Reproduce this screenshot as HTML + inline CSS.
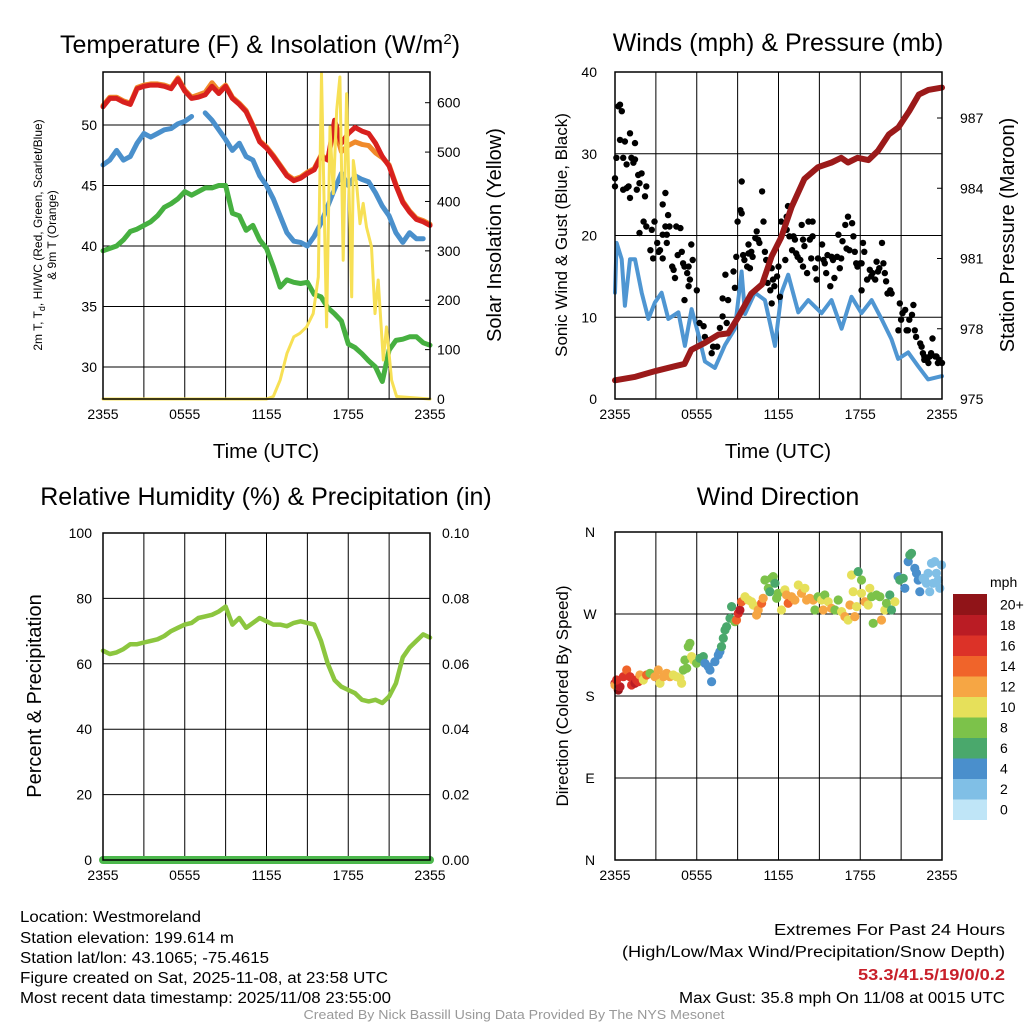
<!DOCTYPE html>
<html><head><meta charset="utf-8"><style>
html,body{margin:0;padding:0;background:#fff}
svg{display:block;font-family:"Liberation Sans",sans-serif}
</style></head><body>
<svg id="c" width="1024" height="1024" viewBox="0 0 1024 1024">
<g id="bg"></g>
<g id="marks"></g>
<g id="fg"></g>
<g font-size="15.5" fill="#000">
<text x="20" y="922" textLength="181" lengthAdjust="spacingAndGlyphs">Location: Westmoreland</text>
<text x="20" y="943" textLength="214" lengthAdjust="spacingAndGlyphs">Station elevation: 199.614 m</text>
<text x="20" y="963" textLength="249" lengthAdjust="spacingAndGlyphs">Station lat/lon: 43.1065; -75.4615</text>
<text x="20" y="983" textLength="368" lengthAdjust="spacingAndGlyphs">Figure created on Sat, 2025-11-08, at 23:58 UTC</text>
<text x="20" y="1003" textLength="371" lengthAdjust="spacingAndGlyphs">Most recent data timestamp: 2025/11/08 23:55:00</text>
<text x="1005" y="935" text-anchor="end" textLength="231" lengthAdjust="spacingAndGlyphs">Extremes For Past 24 Hours</text>
<text x="1005" y="957" text-anchor="end" textLength="383" lengthAdjust="spacingAndGlyphs">(High/Low/Max Wind/Precipitation/Snow Depth)</text>
<text x="1005" y="980" text-anchor="end" font-weight="bold" fill="#c8202a" textLength="147" lengthAdjust="spacingAndGlyphs">53.3/41.5/19/0/0.2</text>
<text x="1005" y="1003" text-anchor="end" textLength="326" lengthAdjust="spacingAndGlyphs">Max Gust: 35.8 mph On 11/08 at 0015 UTC</text>
<text x="514" y="1019" text-anchor="middle" font-size="12.5" fill="#999" textLength="421" lengthAdjust="spacingAndGlyphs">Created By Nick Bassill Using Data Provided By The NYS Mesonet</text>
</g>
</svg>
<script>
// ---------- DATA ----------
const halfHours = [0,0.5,1,1.5,2,2.5,3,3.5,4,4.5,5,5.5,6,6.5,7,7.5,8,8.5,9,9.5,10,10.5,11,11.5,12,12.5,13,13.5,14,14.5,15,15.5,16,16.5,17,17.5,18,18.5,19,19.5,20,20.5,21,21.5,22,22.5,23,23.5,24];
const tempRed = [51.5,52.2,52.2,51.9,51.7,53,53.2,53.3,53.3,53.2,53,53.8,52.8,52.2,52.3,52.5,53.2,52.6,53.2,52.2,51.7,51.1,49.9,48.6,48.1,47.4,46.6,45.8,45.4,45.6,46,46.3,47.4,47.1,50.4,48.5,49.3,49.8,49.5,49.3,48.5,47.4,46.6,45,43.6,42.8,42.2,42,41.7];
const tempOrange = [51.6,52.3,52.3,52,51.8,53.1,53.3,53.4,53.4,53.3,53.1,53.9,52.9,52.3,52.5,52.7,53.5,52.8,53.3,52.3,51.8,51.2,50,48.7,48.2,47.5,46.7,45.9,45.5,45.7,46.1,46.4,47.5,47.2,49.8,47.8,48.3,48.6,48.4,48.3,47.7,47.3,46.7,45.1,43.7,42.9,42.3,42.1,41.8];
const dewBlue = [46.7,47.1,47.9,47.1,47.4,48.5,49.3,49,49.3,49.6,49.7,50.1,50.3,50.7,null,51,50.4,49.6,48.8,47.9,48.5,47.4,47.1,45.8,45,43.9,42.5,41.1,40.4,40.3,40,40.8,41.9,43.3,44.7,46,45,45.8,45.5,45.3,44.4,43.3,42.5,41.1,40.3,41.1,40.6,40.6,null];
const wetGreen = [39.6,39.8,40,40.5,41.2,41.4,41.7,42,42.5,43.2,43.5,43.9,44.5,44.2,44.5,44.8,44.8,45,45,42.7,42.5,41.3,41.7,40.5,39.8,38.3,36.6,37.2,37,36.9,37,36,35.8,34.9,34.4,33.8,31.9,31.6,31.1,30.5,30,28.8,31.4,32.2,32.3,32.5,32.5,32,31.8];
const solarHours = [0,12,12.5,13,13.5,14,14.45,14.94,15.43,15.8,16.04,16.41,16.66,16.9,17.15,17.39,17.63,17.88,18.25,18.37,18.61,18.86,19.1,19.34,19.71,19.96,20.2,20.57,20.81,21.18,21.55,24];
const solarVals = [0,0,5,38,92,126,133,146,173,247,659,146,551,416,585,652,281,618,207,483,436,355,396,348,308,173,241,79,146,38,5,0];

const pressHours = [0,1.5,3,4.4,5.1,5.6,6.6,7.6,8.3,9.05,10,10.8,11.5,12.2,12.96,13.9,14.9,15.9,16.6,17.1,17.8,18.6,19.3,20.1,20.8,21.6,22.3,23,24];
const pressVals = [975.8,975.95,976.2,976.4,976.5,977.1,977.4,977.75,977.8,978.5,979.5,979.9,981.1,981.9,983.2,984.4,984.9,985.1,985.3,985.1,985.3,985.2,985.6,986.3,986.6,987.3,988,988.2,988.3];
const sonicHours = [0,0.12,0.49,0.73,1.1,1.47,1.96,2.45,2.93,3.42,3.91,4.65,5.13,5.62,6.11,6.6,7.33,8.07,8.8,9.29,9.54,10.27,11.0,11.74,12.22,12.71,13.45,14.18,15.16,15.89,16.63,17.36,18.09,18.83,19.56,20.29,20.78,21.52,22.25,22.98,24];
const sonicVals = [13,19.1,17.1,11.4,17.1,17.1,13,9.8,11.8,13,9.8,10.6,6.5,11,8,4.6,3.8,6.6,8.6,15.6,10.4,13,12.1,6.5,13,15.2,10.6,12.1,10.5,12.1,8.6,12.5,10.5,12.1,9.8,7.3,4.9,5.7,4,2.4,2.8];
const gustHours = [0,0,0.1,0.25,0.37,0.5,0.37,0.73,0.6,0.85,1.1,1,1.1,0.6,0.85,1.2,1.35,1.47,1.47,1.7,1.6,1.8,1.95,2.3,2.2,2.1,2.3,1.8,2.6,2.7,2.8,2.9,3.2,3.1,3.3,3.5,3.7,3.8,3.7,3.5,3.9,4,3.8,3.5,4.2,4.3,4.4,4.5,4.8,4.9,4.6,5,5.1,5.3,5.4,5.5,5.4,5.6,5.7,6,5.1,6.2,6.5,6.6,6.8,7.1,7.2,7.5,7.7,7.9,8.2,7.9,8.3,8.1,8.7,8.8,8.9,9,9.2,9.3,9.3,9.4,9.5,9.7,9.8,10,9.9,9.8,10.1,10.3,10.4,10.5,10.6,10.8,10.9,11,11.1,11.2,11.4,11.5,11.6,11.5,11.7,11.9,12,12.1,12.2,12.5,12.6,12.7,12.6,12.8,13,13.1,13.2,13.3,13.4,13.6,13.7,13.8,13.9,13.8,14.1,14.2,14.3,14.4,14.5,14.5,14.7,14.8,14.9,15.2,15.3,15.4,15.5,15.6,15.8,15.9,16,16.1,16.3,16.4,16.5,16.6,16.7,16.9,17,17.1,17.4,17.2,17.5,17.6,17.7,17.8,18,18.1,18.2,18.3,18.5,18.1,18.7,18.8,18.9,19.1,19.2,19.3,19.4,19.6,19.7,19.8,19.9,20,20.3,20.2,20.9,20.8,21,21.1,21.3,21.4,21.5,21.6,21.8,21.9,22,22.1,22.4,22.5,22.6,22.7,22.9,23,23.1,23.2,23.3,23.5,23.7,23.8,24,22.7,23.6];
const gustVals = [26,27,29.5,35.8,36,35.2,31.7,31.5,25.6,25.8,32.5,26,24.6,29.5,28.7,29.5,28.9,31.3,29.3,27.4,25.6,26.4,27.6,26,24.8,21.7,21.1,20.3,18.2,20.7,17.2,21.7,18,19.1,18.2,20.1,21.1,20.1,25.2,23.8,22.5,21.1,19.1,17.2,16.2,15.8,14.8,21.1,20.9,18,17.6,16.6,16.2,15.4,16.2,14.6,13.8,18.9,17,13.3,12.1,9.3,8.9,7.6,7.2,5.6,6.4,6.4,8.7,10.1,9.3,12.3,12.1,15.2,15.6,13.6,17.4,21.7,23.1,22.7,26.6,17.6,17,16.2,17.8,18,16,18.9,17.4,19.7,20.5,19.5,19.1,25.4,21.7,18,17,14.2,13.3,16,14.6,11.7,13.8,15,16.2,12.5,21.7,17,22.3,23.6,20.7,19.9,18.2,19.9,19.5,17.8,17.4,17,21.3,19.5,18.7,16.2,15.4,21.7,19.5,17.2,21.7,19.9,16,14.6,17.2,18.9,17,16.6,15.4,17.6,13.8,17.4,17,14.8,17.4,20.1,16,17.2,19.3,21.3,18.4,22.3,21.5,18.2,19.9,18,16.6,16.2,16.6,16.6,19.1,18,14.6,13.3,15.8,15,15.4,14.6,16.8,15.6,16,19.1,16.6,15.4,14.4,12.9,12.9,13.3,11.7,8.4,9.7,10.5,10.9,8.4,8.4,9.7,10.3,11.5,8.4,7.6,6.8,6.4,5.6,5.2,4.8,4.4,5.2,5.6,7.4,5.2,4.4,4.8,4.4,4.8,5.2];

const rhVals = [64,63,63.5,64.5,66,66,66.5,67,67.5,68.5,70,71,72,72.5,74,74.5,75,76,77.5,72,74,71,72.5,74,73,72,72,71.5,72.5,73,72.5,72,67,60,55,53,52,51,49,48.5,49,48,50,54,62,65,67,69,68];
const precipVals = [0,0,0,0,0,0,0,0,0,0,0,0,0,0,0,0,0,0,0,0,0,0,0,0,0,0,0,0,0,0,0,0,0,0,0,0,0,0,0,0,0,0,0,0,0,0,0,0,0];

const dirHours = [0,0.24,0,0.37,0.12,0.61,0.86,1.1,1.22,1.47,1.59,1.71,1.83,2.08,2.32,2.57,2.93,3.18,3.3,3.55,3.79,4.03,4.28,4.52,4.77,4.89,5.01,5.26,5.13,5.38,5.5,5.62,5.75,5.99,6.23,6.48,6.6,6.85,7.09,6.97,7.33,7.58,7.7,7.82,7.95,8.07,8.19,8.44,8.56,8.8,8.92,9.05,9.17,9.29,9.54,9.78,10.02,10.15,10.39,10.51,10.76,10.88,11,11.25,11.37,11.49,11.61,11.74,11.86,11.98,12.22,12.47,12.59,12.71,12.96,13.2,13.45,13.69,13.94,14.06,14.3,14.55,14.67,14.91,15.16,15.28,15.4,15.65,15.89,16.14,16.38,16.63,16.87,17.11,17.24,17.36,17.48,17.6,17.73,17.85,18.09,18.09,18.34,18.58,18.7,18.83,18.95,19.19,19.44,19.56,19.8,19.93,20.17,20.29,20.54,20.78,20.9,21.15,21.27,21.52,21.64,21.76,22,22.13,22.25,22.37,22.62,22.74,22.86,23.1,23.23,23.47,23.59,23.72,23.84,23.96,22.98,23.35];
const dirVals = [193.9,186.6,192.1,190.2,197.6,201.2,208.5,201.2,192.1,193.9,197.6,195.7,203,197.6,203,204.9,201.2,208.5,193.9,201.2,204.9,201.2,203,201.2,199.4,193.9,208.5,210.4,219.5,234.2,237.8,223.2,219.5,215.9,221.3,223.2,215.9,212.2,195.7,208.5,217.7,225,228.7,234.2,243.3,252.4,256.1,265.3,278.1,261.6,263.4,270.7,274.4,283.5,289,285.4,283.5,279.9,268.9,274.4,281.7,287.2,307.3,298.2,294.5,309.2,311,303.7,287.2,292.7,274.4,296.4,290.9,281.7,289,285.4,301.8,292.7,298.2,285.4,287.2,285.4,274.4,289,285.4,274.4,290.9,283.5,276.2,274.4,285.4,272.6,267.1,263.4,279.9,312.8,294.5,267.1,278.1,316.5,307.3,292.7,283.5,279.9,298.2,289,259.8,290.9,289,263.4,274.4,281.7,290.9,274.4,283.5,311,307.3,309.2,298.2,327.5,334.8,336.6,320.1,314.7,307.3,294.5,309.2,307.3,303.7,294.5,325.7,327.5,314.7,307.3,298.2,323.8,314.7,303.7];
const dirSpeeds = [18,20,12,18,16,16,14,16,16,18,16,16,12,10,14,8,12,12,10,12,12,12,10,10,10,10,8,8,8,8,8,10,10,8,6,6,4,4,4,4,4,4,4,6,6,6,6,6,6,8,14,16,18,14,10,10,10,10,12,12,14,12,8,8,6,8,8,6,8,8,10,10,12,14,12,12,10,12,10,12,12,12,8,8,10,12,8,10,12,8,8,10,12,10,12,10,10,12,10,6,8,10,12,10,10,8,8,8,8,12,10,8,6,6,10,4,6,6,4,4,6,6,4,4,4,4,2,2,2,2,2,2,2,2,2,2,2,2];
const cbColors = ["#bfe5f7","#80bfe6","#4a8fcc","#4aa86c","#7cc24a","#e6e05a","#f6a644","#f0642a","#dc3228","#ba1c24","#901418"];
const cbLabels = ["0","2","4","6","8","10","12","14","16","18","20+"];
const timeLabels = ["2355","0555","1155","1755","2355"];

// ---------- helpers ----------
const NS="http://www.w3.org/2000/svg";
const bg=document.getElementById('bg'), marks=document.getElementById('marks'), fg=document.getElementById('fg');
function mk(tag,attrs,parent){const e=document.createElementNS(NS,tag);for(const k in attrs)e.setAttribute(k,attrs[k]);parent.appendChild(e);return e;}
function txt(s,attrs,parent){const e=mk('text',attrs,parent);e.textContent=s;return e;}
const X0L=103,X1L=430,X0R=615,X1R=942;
function xs(x0,x1){return h=>x0+(x1-x0)*h/24;}
function ys(y0,y1,v0,v1){return v=>y0+(y1-y0)*(v-v0)/(v1-v0);}
function frame(x0,x1,y0,y1,name){
  for(let k=1;k<8;k++){const x=x0+(x1-x0)*k/8;const l=mk('line',{x1:x,x2:x,y1:y0,y2:y1,stroke:'#000','stroke-width':1},bg);
  
  }
  const r=mk('rect',{x:x0,y:y0,width:x1-x0,height:y1-y0,fill:'none',stroke:'#000','stroke-width':1.5},fg);
  
  
  timeLabels.forEach((s,i)=>{const t=txt(s,{x:x0+(x1-x0)*i/4,y:y1+20,'text-anchor':'middle','font-size':14},fg);
  
  });
}
function hgrid(x0,x1,y,name){const l=mk('line',{x1:x0,x2:x1,y1:y,y2:y,stroke:'#000','stroke-width':1},bg);
  
  }
function tick(x,y,s,anchor,name){const t=txt(s,{x:x,y:y+5,'text-anchor':anchor,'font-size':14},fg);
  
  }
function poly(hs,vs,X,Y,color,w,name){
  let d='',pen=false;
  hs.forEach((h,i)=>{const v=vs[i];if(v===null||v===undefined){pen=false;return;}d+=(pen?'L':'M')+X(h).toFixed(1)+','+Y(v).toFixed(1);pen=true;});
  const p=mk('path',{d:d,fill:'none',stroke:color,'stroke-width':w,'stroke-linejoin':'round','stroke-linecap':'round'},marks);
  
  
}
function title(s,x,y,name,size){const t=txt(s,{x:x,y:y,'text-anchor':'middle','font-size':size||25},fg);
  
  return t;}
function vtitle(s,x,y,name,size){const t=txt(s,{x:0,y:0,'text-anchor':'middle','font-size':size||20,transform:`translate(${x},${y}) rotate(-90)`},fg);
  
  return t;}

// ---------- Panel 1: Temperature ----------
{
 const X=xs(X0L,X1L), Y=ys(125,246,50,40), YS=ys(399,102.7,0,600);
 const y0=72,y1=399;
 [30,35,40,45,50].forEach(v=>{hgrid(X0L,X1L,Y(v),'temp');tick(97,Y(v),String(v),'end','temp-y-tick-label');});
 [0,100,200,300,400,500,600].forEach(v=>{tick(437,YS(v),String(v),'start','solar-y-tick-label');
   const m=mk('line',{x1:X1L-5,x2:X1L,y1:YS(v),y2:YS(v),stroke:'#000'},fg);
   
   });
 frame(X0L,X1L,y0,y1,'temp');
 poly(halfHours,wetGreen,X,Y,'#46b040',5,'hiwc-line-green');
 poly(halfHours,dewBlue,X,Y,'#4a90cc',5,'dewpoint-line-blue');
 poly(halfHours,tempOrange,X,Y,'#f08a2a',5,'temp-9m-line-orange');
 poly(halfHours,tempRed,X,Y,'#d8201e',5,'temp-2m-line-red');
 poly(solarHours,solarVals,X,YS,'#f7e055',3,'solar-line-yellow');
 const t=title('Temperature (F) & Insolation (W/m',260,53,'temp-panel-title');
 const sup=mk('tspan',{dy:-9,'font-size':15},t);sup.textContent='2';
 const cl=mk('tspan',{dy:9},t);cl.textContent=')';
 title('Time (UTC)',266,458,'temp-x-axis-title',20.5);
 vtitle('Solar Insolation (Yellow)',501,235,'solar-y-axis-title',20);
 const lt=txt('',{x:0,y:0,'text-anchor':'middle','font-size':12,transform:'translate(42,235) rotate(-90)'},fg);
 
 
 lt.innerHTML='2m T, T<tspan font-size="9" dy="3">d</tspan><tspan dy="-3">, HI/WC (Red, Green, Scarlet/Blue)</tspan>';
 const lt2=txt('& 9m T (Orange)',{x:0,y:0,'text-anchor':'middle','font-size':12,transform:'translate(56,235) rotate(-90)'},fg);
 
 
}

// ---------- Panel 2: Winds & Pressure ----------
{
 const X=xs(X0R,X1R), Y=ys(399,72,0,40), YP=ys(399,118,975,987);
 [10,20,30].forEach(v=>hgrid(X0R,X1R,Y(v),'wind'));
 [0,10,20,30,40].forEach(v=>tick(597,Y(v),String(v),'end','wind-y-tick-label'));
 [975,978,981,984,987].forEach(v=>{tick(960,YP(v),String(v),'start','pressure-y-tick-label');
   const m=mk('line',{x1:X1R-5,x2:X1R,y1:YP(v),y2:YP(v),stroke:'#000'},fg);
   
   });
 frame(X0R,X1R,72,399,'wind');
 poly(sonicHours,sonicVals,X,Y,'#4f96d2',4,'sonic-wind-line');
 gustHours.forEach((h,i)=>{const c=mk('circle',{cx:X(h).toFixed(1),cy:Y(gustVals[i]).toFixed(1),r:3.2,fill:'#000'},marks);
   
   });
 poly(pressHours,pressVals,X,YP,'#9b1a1a',6,'pressure-line-maroon');
 title('Winds (mph) & Pressure (mb)',778,51,'wind-panel-title');
 title('Time (UTC)',778,458,'wind-x-axis-title',20.5);
 vtitle('Sonic Wind & Gust (Blue, Black)',567,235,'wind-y-axis-title',17);
 vtitle('Station Pressure (Maroon)',1014,235,'pressure-y-axis-title',20);
}

// ---------- Panel 3: RH & Precip ----------
{
 const X=xs(X0L,X1L), Y=ys(860,533,0,100), YR=ys(860,533,0,0.1);
 [20,40,60,80].forEach(v=>hgrid(X0L,X1L,Y(v),'rh'));
 [0,20,40,60,80,100].forEach(v=>tick(92,Y(v),String(v),'end','rh-y-tick-label'));
 ['0.00','0.02','0.04','0.06','0.08','0.10'].forEach(s=>tick(442,YR(parseFloat(s)),s,'start','precip-y-tick-label'));
 frame(X0L,X1L,533,860,'rh');
 poly(halfHours,rhVals,X,Y,'#8cc63f',4.5,'rh-line');
 poly(halfHours,precipVals,X,YR,'#4cb84c',8,'precip-line');
 title('Relative Humidity (%) & Precipitation (in)',266,505,'rh-panel-title');
 vtitle('Percent & Precipitation',41,696,'rh-y-axis-title',20);
}

// ---------- Panel 4: Wind direction ----------
{
 const X=xs(X0R,X1R), Y=ys(860,532,0,360);
 [90,180,270].forEach(v=>hgrid(X0R,X1R,Y(v),'dir'));
 ['N','E','S','W','N'].forEach((s,i)=>tick(590,Y(i*90),s,'middle','dir-y-tick-label'));
 frame(X0R,X1R,532,860,'dir');
 dirHours.forEach((h,i)=>{const idx=Math.min(10,Math.floor(dirSpeeds[i]/2));
   const c=mk('circle',{cx:X(h).toFixed(1),cy:Y(dirVals[i]).toFixed(1),r:4.6,fill:cbColors[idx]},marks);
   
   });
 title('Wind Direction',778,505,'dir-panel-title');
 vtitle('Direction (Colored By Speed)',568,696,'dir-y-axis-title',17);
 const cbTop=594,cbH=20.5;
 cbColors.forEach((col,i)=>{const r=mk('rect',{x:953,y:cbTop+(10-i)*cbH,width:34,height:cbH+0.5,fill:col},fg);
   
   
   const t=txt(cbLabels[i],{x:1000,y:cbTop+(10-i)*cbH+cbH/2+5,'text-anchor':'start','font-size':14},fg);
   
   });
 const u=txt('mph',{x:990,y:587,'font-size':14},fg);
 
 
}
</script>
</body></html>
